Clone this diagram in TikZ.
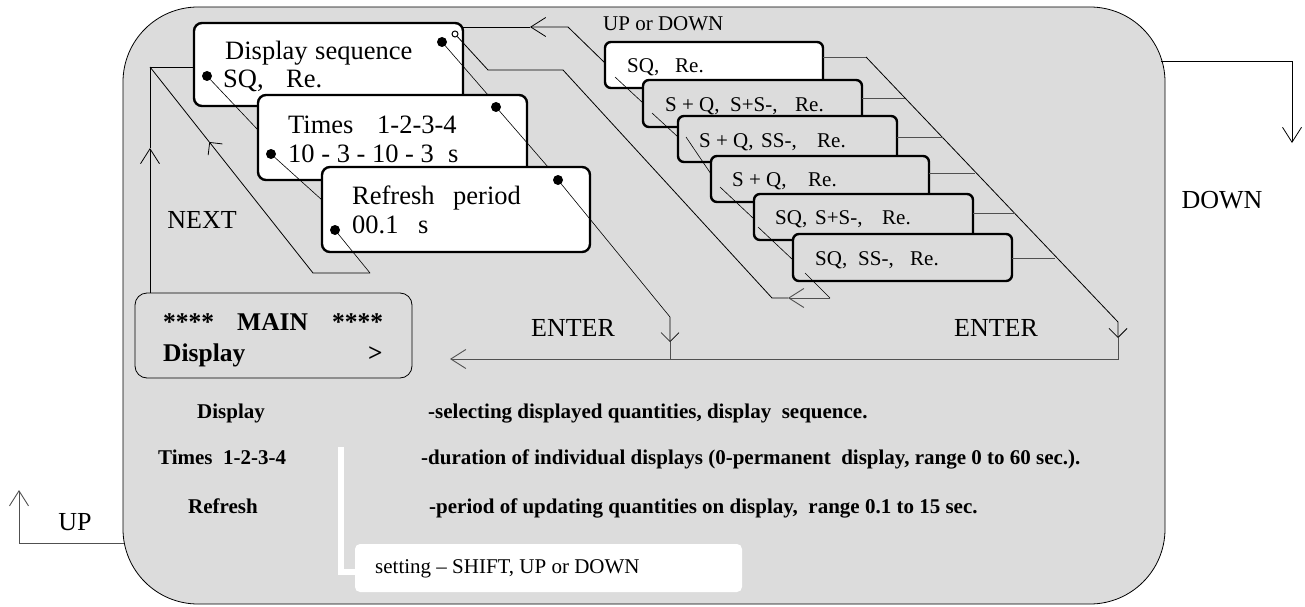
\documentclass[tikz,border=0pt]{standalone}
\usepackage{fontspec}
\setmainfont{Liberation Serif}
\usetikzlibrary{arrows.meta}
\definecolor{panelgray}{HTML}{DCDCDC}
\definecolor{linegray}{HTML}{505050}
\begin{document}
\begin{tikzpicture}[x=1pt,y=-1pt,
  panel/.style={draw=black, line width=0.8pt, fill=panelgray, rounded corners=75pt, inner sep=0pt, outer sep=0pt, anchor=north west},
  wbox/.style={draw=black, line width=2.4pt, fill=white, rounded corners=8pt, inner sep=0pt, outer sep=0pt, anchor=north west},
  sbox/.style={draw=black, line width=2.4pt, fill=panelgray, rounded corners=6pt, inner sep=0pt, outer sep=0pt, anchor=north west},
  mainbox/.style={draw=black, line width=0.8pt, fill=panelgray, rounded corners=12pt, inner sep=0pt, outer sep=0pt, anchor=north west},
  setbox/.style={fill=white, rounded corners=5pt, inner sep=0pt, outer sep=0pt, anchor=north west},
  dot/.style={circle, fill=black, inner sep=0pt, minimum size=10pt},
  odot/.style={circle, draw=black, fill=white, line width=1pt, inner sep=0pt, minimum size=6pt},
  conn/.style={draw=black, line width=0.8pt},
  gconn/.style={draw=linegray, line width=0.9pt},
  dline/.style={draw=black, line width=0.6pt},
  vlong/.style={-{Straight Barb[length=15pt,width=19pt]}},
  vwide/.style={-{Straight Barb[length=9pt,width=18pt]}},
  tbig/.style={font=\fontsize{26.5}{31}\selectfont, inner sep=0pt, anchor=base west},
  tlbl/.style={font=\fontsize{26}{31}\selectfont, inner sep=0pt, anchor=base},
  tsmall/.style={font=\fontsize{21}{25}\selectfont, inner sep=0pt, anchor=base west},
  tbold/.style={font=\fontsize{25.5}{30}\selectfont\bfseries, inner sep=0pt, anchor=base west},
  tdesc/.style={font=\fontsize{21}{25}\selectfont\bfseries, inner sep=0pt, anchor=base west}]
\useasboundingbox (0,0) rectangle (1305,607);

% panel
\node[panel, minimum width=1042pt, minimum height=597pt] (panel) at (123,7) {};

% DOWN / UP
\coordinate (dnA) at (1161,61);
\coordinate (dnC) at (1292,143);
\draw[conn, vlong] (dnA) -- (1292,61) -- (dnC);
\node[tlbl] (downlbl) at (1222,208) {DOWN};
\coordinate (upA) at (124,543);
\coordinate (upC) at (19,490);
\draw[gconn, vlong] (upA) -- (19,543) -- (upC);
\node[tlbl] (uplbl) at (75,530) {UP};

% MAIN box
\node[mainbox, minimum width=277pt, minimum height=85pt] (main) at (135,293) {};
\node[tbold] (mainl1) at (163,330) {\makebox[74pt][l]{****}\makebox[95pt][l]{MAIN}****};
\node[tbold] (mainl2) at (163,361) {\makebox[205pt][l]{Display}>};

% NEXT connectors
\coordinate (nxA) at (150,293);
\coordinate (nxM) at (150,148);
\coordinate (nxC) at (150,67);
\coordinate (nxB) at (194,67);
\draw[conn, vlong] (nxA) -- (nxM);
\draw[conn] (nxM) -- (nxC) -- (nxB);
\node[tlbl] (nextlbl) at (202,228) {NEXT};

% return diagonal from box3
\coordinate (rbR) at (370,273);
\coordinate (rbL) at (313,273);
\coordinate (rbM) at (209.3,142);

% Box 1
\node[wbox, minimum width=269pt, minimum height=83pt] (b1) at (194,23) {};
\node[tbig] (b1l1) at (225,60) {\makebox[90pt][l]{Display}sequence};
\node[tbig] (b1l2) at (223,88) {\makebox[63pt][l]{SQ,}Re.};
\node[dot] (d1l) at (207,76) {};
\node[dot] (d1r) at (442,42) {};
\node[odot] (c1) at (455,34) {};
\coordinate (e1l) at (258,130);
\coordinate (e1r) at (488,95);
\draw[dline] (d1l) -- (e1l);
\draw[dline] (d1r) -- (e1r);

% Box 2
\node[wbox, minimum width=269pt, minimum height=85pt] (b2) at (258,95) {};
\node[tbig] (b2l1) at (288,133) {\makebox[89pt][l]{Times}1-2-3-4};
\node[tbig] (b2l2) at (288,162) {\makebox[160pt][l]{10 - 3 - 10 - 3}s};
\node[dot] (d2l) at (271,154) {};
\node[dot] (d2r) at (496,107) {};
\coordinate (e2l) at (322,200);
\coordinate (e2r) at (548,167);
\draw[dline] (d2l) -- (e2l);
\draw[dline] (d2r) -- (e2r);

% Box 3
\node[wbox, minimum width=268pt, minimum height=85pt] (b3) at (322,167) {};
\node[tbig] (b3l1) at (352,204) {\makebox[101pt][l]{Refresh}period};
\node[tbig] (b3l2) at (352,233) {\makebox[66pt][l]{00.1}s};
\node[dot] (d3l) at (335,230) {};
\node[dot] (d3r) at (558,180) {};

% NEXT return path
\draw[dline] (d3l) -- (rbR);
\draw[conn, vwide] (rbR) -- (rbL) -- (rbM);
\draw[conn] (rbM) -- (nxC);

% ENTER (left)
\coordinate (enA) at (670,342);
\coordinate (enJ) at (670,359);
\draw[dline, vwide] (d3r) -- (670,317) -- (enA);
\draw[gconn] (enA) -- (enJ);
\node[tlbl] (enter1) at (573,336) {ENTER};

% stack diagonal & ENTER (right)
\coordinate (sdA) at (866,57);
\coordinate (sdB) at (1118,338);
\coordinate (mainarr) at (450,359);
\draw[conn, vwide] (sdA) -- (1118,322) -- (sdB);
\draw[gconn, vlong] (sdB) -- (1118,359) -- (mainarr);
\node[tlbl] (enter2) at (996,336) {ENTER};

% top connector UP or DOWN
\coordinate (tcA) at (605,63);
\coordinate (tcM) at (530,27);
\coordinate (tcB) at (463,27);
\draw[conn, vlong] (tcA) -- (568,27) -- (tcM);
\draw[conn] (tcM) -- (tcB);
\node[tsmall] (updown) at (603,31) {UP or DOWN};

% return loop to small circle
\coordinate (rlA) at (830,298);
\coordinate (rlM) at (788,298);
\draw[conn] (c1) -- (488,70) -- (563,70) -- (772,298) -- (rlM);

% Stack boxes
\node[sbox, fill=white, minimum width=218pt, minimum height=46pt] (s1) at (605,42) {};
\node[tsmall] (s1t) at (627,73) {\makebox[48pt][l]{SQ,}Re.};
\draw[gconn] (s1.east |- 0,57) -- (sdA);
\draw[dline] (615,77) -- (643,103);

\node[sbox, minimum width=219pt, minimum height=47pt] (s2) at (643,80) {};
\node[tsmall] (s2t) at (665,111) {\makebox[65pt][l]{S + Q,}\makebox[65pt][l]{S+S-,}Re.};
\draw[gconn] (862,98) -- (905,98);
\draw[dline] (652,113) -- (678,137);

\node[sbox, minimum width=219pt, minimum height=46pt] (s3) at (678,116) {};
\node[tsmall] (s3t) at (699,147) {\makebox[62pt][l]{S + Q,}\makebox[56pt][l]{SS-,}Re.};
\draw[gconn] (897,137) -- (943,137);
\draw[dline] (686,137) -- (711,174);

\node[sbox, minimum width=218pt, minimum height=46pt] (s4) at (711,156) {};
\node[tsmall] (s4t) at (732,186) {\makebox[76pt][l]{S + Q,}Re.};
\draw[gconn] (929,173) -- (975,173);
\draw[dline] (720,187) -- (754,219);

\node[sbox, minimum width=219pt, minimum height=46pt] (s5) at (754,194) {};
\node[tsmall] (s5t) at (775,224) {\makebox[40pt][l]{SQ,}\makebox[67pt][l]{S+S-,}Re.};
\draw[gconn] (973,213) -- (1015,213);
\draw[dline] (758,227) -- (793,260);

\node[sbox, minimum width=219pt, minimum height=47pt] (s6) at (793,234) {};
\node[tsmall] (s6t) at (815,265) {\makebox[43pt][l]{SQ,}\makebox[52pt][l]{SS-,}Re.};
\draw[gconn] (1012,258) -- (1055,258);
\draw[dline] (805,273) -- (rlA);
\draw[gconn, vlong] (rlA) -- (rlM);

% descriptions
\node[tdesc] (dk1) at (197,418) {Display};
\node[tdesc] (dk2) at (158,464) {Times\ \ 1-2-3-4};
\node[tdesc] (dk3) at (188,513) {Refresh};
\node[tdesc] (dv1) at (428,418) {-selecting displayed quantities, display\ \ sequence.};
\node[tdesc] (dv2) at (421,464) {-duration of individual displays (0-permanent\ \ display, range 0 to 60 sec.).};
\node[tdesc] (dv3) at (429,513) {-period of updating quantities on display,\ \ range 0.1 to 15 sec.};

% setting box
\draw[white, line width=6pt] (341,447) -- (341,572) -- (357,572);
\node[setbox, minimum width=387pt, minimum height=48pt] (setb) at (355,544) {};
\node[tsmall] (sett) at (375,573) {setting – SHIFT, UP or DOWN};
\end{tikzpicture}
\end{document}
